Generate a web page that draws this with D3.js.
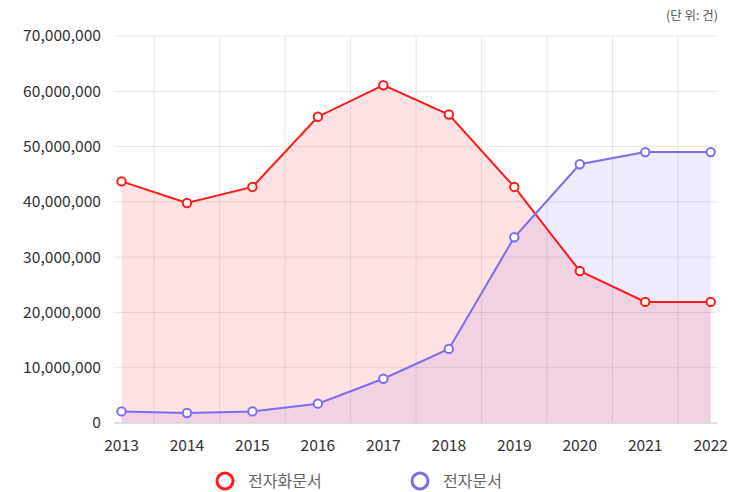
<!DOCTYPE html>
<html>
<head>
<meta charset="utf-8">
<script src="https://cdn.jsdelivr.net/npm/d3@7"></script>
<style>
  html, body { margin: 0; padding: 0; background: #fff; }
  svg { display: block; font-family: "Noto Sans CJK KR", "Noto Sans", sans-serif; }
</style>
</head>
<body>
<svg id="chart" width="729" height="492"></svg>
<script>
const years = ["2013","2014","2015","2016","2017","2018","2019","2020","2021","2022"];
const scannedDocs = [43700000, 39800000, 42700000, 55400000, 61100000, 55800000, 42700000, 27500000, 21900000, 21900000];
const electronicDocs = [2100000, 1800000, 2100000, 3500000, 8000000, 13400000, 33600000, 46800000, 49000000, 49000000];
const yTicks = [0, 10000000, 20000000, 30000000, 40000000, 50000000, 60000000, 70000000];
const seriesNames = ["전자화문서", "전자문서"];
const unitLabel = "(단 위: 건)";

(function () {
const svg = d3.select("#chart");
const plotLeft = 121.5, plotRight = 710.7, plotTop = 36, plotBottom = 423;
const gridLeft = 114, gridRight = 717;

const x = d3.scalePoint().domain(years).range([plotLeft, plotRight]);
const y = d3.scaleLinear().domain([0, 70000000]).range([plotBottom, plotTop]);
const step = x.step();

const series = [
  { name: seriesNames[0], values: scannedDocs, line: "#ff1a1a", fill: "rgba(255,0,0,0.11)" },
  { name: seriesNames[1], values: electronicDocs, line: "#7e6cf0", fill: "rgba(120,100,255,0.12)" }
];

const area = d3.area().x((d, i) => x(years[i])).y0(y(0)).y1(d => y(d));
const line = d3.line().x((d, i) => x(years[i])).y(d => y(d));

series.slice().reverse().forEach(s => {
  svg.append("path").attr("d", area(s.values)).attr("fill", s.fill);
});

// horizontal grid
svg.append("g").selectAll("line").data(yTicks.filter(d => d > 0)).join("line")
  .attr("x1", gridLeft).attr("x2", gridRight)
  .attr("y1", d => y(d)).attr("y2", d => y(d))
  .attr("stroke", "rgba(0,0,0,0.09)").attr("stroke-width", 1);

// vertical grid at category boundaries
svg.append("g").selectAll("line").data(years.slice(0, -1)).join("line")
  .attr("x1", d => x(d) + step / 2).attr("x2", d => x(d) + step / 2)
  .attr("y1", plotTop).attr("y2", plotBottom)
  .attr("stroke", "rgba(0,0,0,0.09)").attr("stroke-width", 1);

// axis baseline
svg.append("line").attr("x1", gridLeft).attr("x2", gridRight)
  .attr("y1", y(0)).attr("y2", y(0)).attr("stroke", "#d4d4d4").attr("stroke-width", 1.5);

series.forEach(s => {
  svg.append("path").attr("d", line(s.values)).attr("fill", "none")
    .attr("stroke", s.line).attr("stroke-width", 2);
});
series.forEach(s => {
  svg.append("g").selectAll("circle").data(s.values).join("circle")
    .attr("cx", (d, i) => x(years[i])).attr("cy", d => y(d)).attr("r", 4.2)
    .attr("fill", "#fff").attr("stroke", s.line).attr("stroke-width", 2);
});

// y axis labels
const fmt = d3.format(",");
svg.append("g").selectAll("text").data(yTicks).join("text")
  .attr("x", 101).attr("y", d => y(d)).attr("dy", "0.35em")
  .attr("text-anchor", "end").attr("font-size", 15.6).attr("fill", "#333")
  .text(d => fmt(d));

// x axis labels
svg.append("g").selectAll("text").data(years).join("text")
  .attr("x", d => x(d)).attr("y", 446).attr("dy", "0.35em")
  .attr("text-anchor", "middle").attr("font-size", 15.6).attr("fill", "#333")
  .text(d => d);

// unit label
svg.append("text").attr("x", 718).attr("y", 16).attr("dy", "0.35em")
  .attr("text-anchor", "end").attr("font-size", 12.5).attr("fill", "#555")
  .text(unitLabel);

// legend
const legendX = [225, 420];
series.forEach((s, i) => {
  const g = svg.append("g");
  g.append("circle").attr("cx", legendX[i]).attr("cy", 481).attr("r", 8)
    .attr("fill", "#fff").attr("stroke", s.line).attr("stroke-width", 3);
  g.append("text").attr("x", legendX[i] + 23).attr("y", 481).attr("dy", "0.35em")
    .attr("font-size", 16).attr("fill", "#666").text(s.name);
});
})();
</script>
</body>
</html>
